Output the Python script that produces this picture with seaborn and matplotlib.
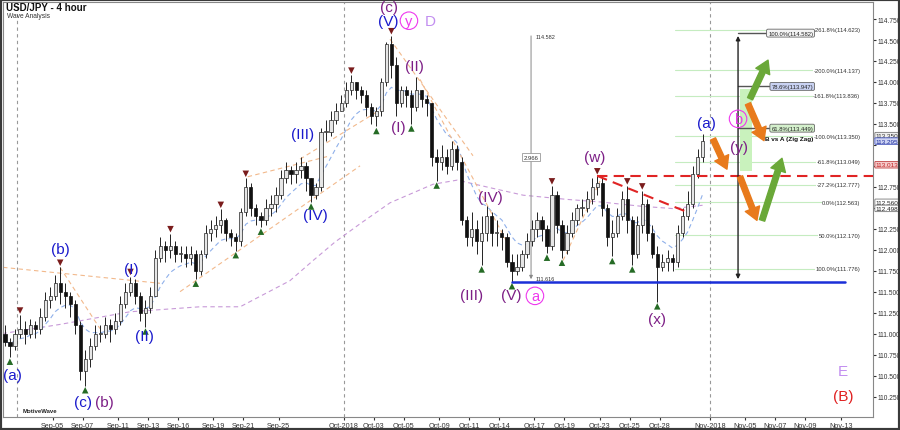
import numpy as np
import pandas as pd
import matplotlib
matplotlib.use("Agg")
import matplotlib.pyplot as plt
from matplotlib.patches import Rectangle
import seaborn as sns

# ---- values (8h candles) ----
first_open = 111.00
closes = [
    110.90, 110.85, 111.00,
    111.05, 111.00, 111.10, 111.05, 111.20, 111.40, 111.45, 111.60, 111.50, 111.45,
    111.35, 111.10, 110.55, 110.70, 110.85, 111.00,
    111.00, 111.10, 111.05, 111.15, 111.35, 111.50, 111.60, 111.45, 111.25, 111.30,
    111.45, 111.90, 112.05, 112.00, 112.05, 111.95,
    111.95, 111.90, 111.95, 111.75, 111.95, 112.20, 112.25, 112.30, 112.35, 112.20,
    112.15, 112.10, 112.45, 112.75, 112.50, 112.40,
    112.35, 112.50, 112.55, 112.65, 112.85, 112.95, 112.90, 112.95, 113.00, 112.85,
    112.65, 112.75, 113.40, 113.40, 113.55, 113.65,
    113.75, 113.90, 114.00, 113.90, 113.85, 113.70, 113.60, 113.65, 114.00, 114.45,
    114.20, 113.75, 113.90, 113.85, 113.70, 113.90,
    113.80, 113.75, 113.10, 113.05, 113.10, 113.00, 113.20, 113.05, 112.35, 112.15,
    112.25, 112.10, 112.20, 112.40, 112.20, 112.20,
    112.15, 111.85, 111.75, 111.80, 111.95, 112.10, 112.25, 112.35, 112.25, 112.05,
    112.65, 112.30, 112.00, 112.20, 112.35, 112.50,
    112.50, 112.60, 112.75, 112.80, 112.50, 112.15, 112.20, 112.40, 112.60, 112.35,
    111.95, 112.30, 112.55, 112.20, 111.95, 111.80,
    111.85, 111.90, 111.85, 112.20, 112.40, 112.55, 112.90, 113.10, 113.30,
]
highs = [
    111.10, 110.95, 111.05,
    111.22, 111.15, 111.18, 111.15, 111.30, 111.50, 111.55, 111.70, 111.79, 111.60,
    111.50, 111.40, 111.15, 110.80, 110.95, 111.10,
    111.10, 111.20, 111.18, 111.25, 111.45, 111.60, 111.68, 111.65, 111.50, 111.40,
    111.55, 112.00, 112.15, 112.10, 112.19, 112.10,
    112.05, 112.05, 112.05, 112.00, 112.00, 112.30, 112.35, 112.40, 112.48, 112.38,
    112.25, 112.20, 112.50, 112.85, 112.80, 112.55,
    112.45, 112.60, 112.65, 112.75, 112.95, 113.05, 113.00, 113.05, 113.10, 113.05,
    112.85, 112.80, 113.45, 113.55, 113.65, 113.75,
    113.85, 114.00, 114.08, 114.00, 113.95, 113.90, 113.75, 113.70, 114.05, 114.48,
    114.55, 114.30, 113.95, 113.95, 113.90, 114.06,
    113.90, 113.85, 113.75, 113.20, 113.25, 113.20, 113.30, 113.25, 113.10, 112.40,
    112.45, 112.35, 112.40, 112.52, 112.45, 112.35,
    112.25, 112.20, 111.95, 111.95, 112.00, 112.20, 112.35, 112.45, 112.40, 112.30,
    112.76, 112.70, 112.35, 112.30, 112.45, 112.55,
    112.60, 112.70, 112.85, 112.88, 112.85, 112.55, 112.35, 112.50, 112.70, 112.76,
    112.40, 112.40, 112.70, 112.60, 112.30, 112.05,
    111.95, 112.00, 111.95, 112.30, 112.50, 112.70, 113.00, 113.20, 113.38,
]
lows = [
    110.85, 110.72, 110.80,
    110.95, 110.88, 110.95, 110.95, 111.00, 111.15, 111.30, 111.40, 111.35, 111.30,
    111.20, 111.00, 110.45, 110.38, 110.60, 110.80,
    110.90, 110.95, 110.90, 111.00, 111.10, 111.30, 111.45, 111.35, 111.15, 111.08,
    111.25, 111.45, 111.85, 111.85, 111.90, 111.85,
    111.85, 111.80, 111.82, 111.65, 111.70, 111.90, 112.10, 112.15, 112.20, 112.10,
    112.05, 111.99, 112.05, 112.40, 112.40, 112.30,
    112.27, 112.30, 112.40, 112.45, 112.60, 112.80, 112.78, 112.80, 112.85, 112.70,
    112.57, 112.60, 112.70, 113.30, 113.35, 113.50,
    113.65, 113.70, 113.85, 113.80, 113.75, 113.60, 113.50, 113.47, 113.60, 113.95,
    114.05, 113.60, 113.70, 113.70, 113.50, 113.65,
    113.70, 113.60, 113.00, 112.82, 112.95, 112.90, 112.95, 112.95, 112.30, 112.05,
    112.05, 111.95, 111.82, 112.10, 112.05, 112.05,
    112.00, 111.80, 111.62, 111.70, 111.75, 111.90, 112.05, 112.15, 112.10, 111.96,
    112.00, 112.20, 111.90, 111.95, 112.15, 112.30,
    112.40, 112.45, 112.55, 112.65, 112.40, 112.05, 111.92, 112.15, 112.35, 112.20,
    111.82, 111.90, 112.20, 112.10, 111.90, 111.38,
    111.75, 111.75, 111.75, 111.80, 112.15, 112.35, 112.50, 112.85, 113.05,
]

# long moving average, read at a few points
ma_long_times = ["2018-08-31 00:00", "2018-09-05 12:00", "2018-09-11 19:00", "2018-09-18 03:00",
                 "2018-09-20 19:00", "2018-09-25 18:00", "2018-09-27 07:00", "2018-09-28 18:00",
                 "2018-10-02 02:00", "2018-10-04 02:00", "2018-10-08 14:00", "2018-10-10 05:00",
                 "2018-10-12 09:00", "2018-10-16 06:00", "2018-10-19 04:00", "2018-10-23 00:00",
                 "2018-10-25 16:00", "2018-10-29 13:00", "2018-10-31 12:00"]
ma_long_values = [111.00, 111.11, 111.26, 111.32, 111.32, 111.63, 111.87, 112.09, 112.31, 112.56,
                  112.78, 112.83, 112.74, 112.65, 112.60, 112.57, 112.52, 112.49, 112.53]

pivot_highs = ["2018-09-02 16:00", "2018-09-05 08:00", "2018-09-11 16:00", "2018-09-14 08:00",
               "2018-09-19 08:00", "2018-09-21 00:00", "2018-10-01 08:00", "2018-10-04 00:00",
               "2018-10-18 00:00", "2018-10-22 16:00", "2018-10-24 16:00", "2018-10-25 16:00"]
pivot_lows = ["2018-08-31 08:00", "2018-09-07 00:00", "2018-09-12 16:00", "2018-09-17 16:00",
              "2018-09-20 08:00", "2018-09-23 16:00", "2018-09-27 00:00", "2018-10-03 00:00",
              "2018-10-05 08:00", "2018-10-08 16:00", "2018-10-11 16:00", "2018-10-15 08:00",
              "2018-10-17 16:00", "2018-10-18 16:00", "2018-10-23 16:00", "2018-10-25 00:00",
              "2018-10-26 16:00"]

tick_dates = ["2018-09-05", "2018-09-07", "2018-09-11", "2018-09-13", "2018-09-16", "2018-09-19",
              "2018-09-21", "2018-09-25", "2018-10-01", "2018-10-03", "2018-10-05", "2018-10-09",
              "2018-10-11", "2018-10-14", "2018-10-17", "2018-10-19", "2018-10-23", "2018-10-25",
              "2018-10-28", "2018-11-01", "2018-11-05", "2018-11-07", "2018-11-09", "2018-11-13"]
tick_labels = ["Sep-05", "Sep-07", "Sep-11", "Sep-13", "Sep-16", "Sep-19", "Sep-21", "Sep-25",
               "Oct-2018", "Oct-03", "Oct-05", "Oct-09", "Oct-11", "Oct-14", "Oct-17", "Oct-19",
               "Oct-23", "Oct-25", "Oct-28", "Nov-2018", "Nov-05", "Nov-07", "Nov-09", "Nov-13"]
month_starts = ["2018-09-02", "2018-10-01", "2018-11-01"]

fib_ext_pct = ["-261.8%", "-200.0%", "-161.8%", "-100.0%", "-61.8%", "-27.2%", "0.0%", "50.0%", "100.0%"]
fib_ext_levels = [114.623, 114.137, 113.836, 113.350, 113.049, 112.777, 112.563, 112.170, 111.776]
fib_ab_pct = ["100.0%", "78.6%", "61.8%"]
fib_ab_levels = [114.582, 113.947, 113.449]
wave_low, wave_high = 111.616, 114.582
neckline = 112.88
covered_ticks = [113.25, 113.0, 112.5]  # axis labels hidden under the price tags

ORIGIN = pd.Timestamp("2018-09-03")
WEEKEND = 0.353  # weekend squeezed to the short sunday session


def xpos(ts):
    ts = pd.Timestamp(ts)
    if ts.weekday() == 6:
        monday = ts.normalize() + pd.Timedelta(days=1)
        h = max(ts.hour + ts.minute / 60, 16)
        return xpos(monday) - WEEKEND * (24 - h) / 8
    days = (ts.normalize() - ORIGIN).days
    weeks = days // 7
    return weeks * 5 + ts.weekday() + weeks * WEEKEND + (ts.hour + ts.minute / 60) / 24


times = pd.date_range("2018-08-31", "2018-10-31 08:00", freq="8h")
times = [t for t in times if t.weekday() < 5 or (t.weekday() == 6 and t.hour == 16)]
df = pd.DataFrame({"time": times, "close": closes, "high": highs, "low": lows})
df["open"] = [first_open] + closes[:-1]
df["x"] = [xpos(t + pd.Timedelta(hours=4)) for t in df["time"]]
df["ema"] = df["close"].ewm(span=9, adjust=False).mean()
by_time = df.set_index("time")

sns.set_style("white")
plt.rcParams["font.family"] = ["Liberation Sans", "DejaVu Sans"]

fig = plt.figure(figsize=(9, 4.31), dpi=100)
ax = fig.add_axes([3 / 900, 13 / 431, 870 / 900, 415 / 431])
ax.set_xlim(-1.313, 56.687)
ax.set_ylim(110.006, 114.953)

# month separators
for m in month_starts:
    ax.axvline(xpos(m), color="#999999", lw=0.8, ls=(0, (3, 3)), zorder=1)

# moving averages
sns.lineplot(x=[xpos(t) for t in ma_long_times], y=ma_long_values, ax=ax, color="#c89ad8",
             lw=0.8, linestyle=(0, (4, 3)), sort=False, zorder=2)
sns.lineplot(x=df["x"], y=df["ema"], ax=ax, color="#8fb0ea", lw=0.8, linestyle=(0, (4, 3)),
             sort=False, zorder=2)

# wave connector lines (day units, price)
connectors = [((-1.31, 111.79), (9.15, 111.60)), ((2.49, 111.79), (5.15, 111.06)),
              ((10.49, 111.50), (22.49, 113.00)), ((15.0, 112.87), (20.29, 113.11)),
              ((18.49, 113.08), (23.95, 113.68)), ((24.49, 114.51), (30.02, 113.12)),
              ((26.49, 114.03), (32.29, 112.09)), ((36.02, 111.87), (38.49, 112.82))]
for (x1, y1), (x2, y2) in connectors:
    ax.plot([x1, x2], [y1, y2], color="#f2b98c", lw=0.8, ls=(0, (4, 3)), zorder=2)

# candles
up = df["close"] >= df["open"]
ax.vlines(df["x"], df["low"], df["high"], color="#222222", lw=0.7, zorder=3)
body_lo = np.minimum(df["open"], df["close"])
body_h = np.maximum(np.abs(df["close"] - df["open"]), 0.012)
ax.bar(df["x"][up], body_h[up], bottom=body_lo[up], width=0.22, color="#e6e6e6",
       edgecolor="#222222", lw=0.5, zorder=4)
ax.bar(df["x"][~up], body_h[~up], bottom=body_lo[~up], width=0.22, color="#111111",
       edgecolor="#111111", lw=0.5, zorder=4)

# swing markers
ph = by_time.loc[pd.to_datetime(pivot_highs)]
pl = by_time.loc[pd.to_datetime(pivot_lows)]
sns.scatterplot(x=ph["x"], y=ph["high"] + 0.055, marker="v", color="#7a1c1c", s=22,
                edgecolor="none", ax=ax, zorder=5)
sns.scatterplot(x=pl["x"], y=pl["low"] - 0.055, marker="^", color="#256b25", s=22,
                edgecolor="none", ax=ax, zorder=5)

# fibonacci extension levels
for pct, lvl in zip(fib_ext_pct, fib_ext_levels):
    ax.plot([43.49, 55.84], [lvl, lvl], color="#c5ecc0", lw=0.8, zorder=1)
    ax.text(55.84, lvl, f"{pct}({lvl:.3f})", fontsize=4.2, color="#333333", ha="right",
            va="center", zorder=6, bbox=dict(fc="white", ec="none", pad=0.3))

# B vs A retracement
ab_fc = ["#f4f4f4", "#c9d2f2", "#d4f0cc"]
for pct, lvl, fc in zip(fib_ab_pct, fib_ab_levels, ab_fc):
    ax.plot([47.69, 50.0], [lvl, lvl], color="#555555", lw=1.0, zorder=5)
    ax.text(52.69, lvl, f"{pct}({lvl:.3f})", fontsize=4.2, color="#222222", ha="right", va="center",
            zorder=6, bbox=dict(boxstyle="round,pad=0.25", fc=fc, ec="#666666", lw=0.6))
ax.text(52.69, 113.32, "B vs A (Zig Zag)", fontsize=4.6, fontweight="bold", ha="right",
        va="center", color="#111111", zorder=6)

# support line and neckline
vx = xpos("2018-10-15 12:00")
wx = xpos("2018-10-22 20:00")
ax.plot([vx, 54.82], [wave_low, wave_low], color="#1a2fd8", lw=1.8, zorder=5)
ax.plot([wx, 56.687], [neckline, neckline], color="#e02424", lw=1.5, ls=(0, (5, 3)), zorder=5)
ax.plot([wx, 44.29], [neckline, 112.45], color="#e02424", lw=1.5, ls=(0, (5, 3)), zorder=5)

# measuring lines
ax.annotate("", xy=(33.89, wave_low), xytext=(33.89, wave_high),
            arrowprops=dict(arrowstyle="-|>", color="#888888", lw=0.7, mutation_scale=5), zorder=4)
ax.text(33.89, 113.105, "2.966", fontsize=4.3, ha="center", va="center", color="#333333", zorder=6,
        bbox=dict(boxstyle="square,pad=0.3", fc="white", ec="#999999", lw=0.6))
ax.text(34.2, wave_high - 0.04, "114.582", fontsize=4, color="#333333", va="center")
ax.text(34.2, wave_low + 0.04, "111.616", fontsize=4, color="#333333", va="center")
ax.annotate("", xy=(47.69, wave_low), xytext=(47.69, wave_high),
            arrowprops=dict(arrowstyle="<|-|>", color="#222222", lw=1.0, mutation_scale=6), zorder=5)

# green target zone
ax.add_patch(Rectangle((47.85, 112.94), 0.75, 0.98, fc="#c9f2bd", ec="none", zorder=1))

# projected path arrows
arrows = [((46.02, 113.32), (46.95, 112.96), "#e87a1c"), ((48.35, 113.74), (49.42, 113.30), "#e87a1c"),
          ((47.82, 112.87), (48.95, 112.35), "#e87a1c"), ((48.49, 113.80), (49.69, 114.26), "#6aa838"),
          ((49.29, 112.35), (50.62, 113.09), "#6aa838")]
for (x1, y1), (x2, y2), c in arrows:
    ax.annotate("", xy=(x2, y2), xytext=(x1, y1), zorder=6,
                arrowprops=dict(arrowstyle="simple,head_width=1.1,head_length=0.9,tail_width=0.4",
                                color=c, mutation_scale=10, shrinkA=0, shrinkB=0))

# wave labels
blue, purple, pink, lav = "#1a1acc", "#7d1f86", "#ee38ee", "#c28ef0"
labels = [("(a)", -0.71, 110.51, blue), ("(b)", 2.49, 112.01, blue), ("(c)", 4.02, 110.18, blue),
          ("(b)", 5.42, 110.18, purple), ("(I)", 7.22, 111.77, blue), ("(II)", 8.09, 110.97, blue),
          ("(III)", 18.69, 113.38, blue), ("(IV)", 19.49, 112.41, blue), ("(V)", 24.35, 114.73, blue),
          ("(c)", 24.42, 114.89, purple), ("D", 27.15, 114.73, lav), ("(I)", 25.02, 113.46, purple),
          ("(II)", 26.09, 114.19, purple), ("(III)", 29.95, 111.46, purple), ("(IV)", 31.15, 112.63, purple),
          ("(V)", 32.55, 111.46, purple), ("(w)", 38.15, 113.11, purple), ("(x)", 42.29, 111.17, purple),
          ("(a)", 45.55, 113.51, blue), ("(y)", 47.75, 113.22, purple), ("E", 54.69, 110.55, lav),
          ("(B)", 54.69, 110.26, "#e02020")]
for txt, x, y, c in labels:
    ax.text(x, y, txt, fontsize=11, color=c, ha="center", va="center", zorder=7)
for txt, x, y in [("y", 25.75, 114.73), ("a", 34.15, 111.45), ("b", 47.69, 113.56)]:
    ax.text(x, y, txt, fontsize=10.5, color=pink, ha="center", va="center", zorder=7,
            bbox=dict(boxstyle="circle,pad=0.12", fc="none", ec=pink, lw=0.8))

# axes
yt = np.arange(110.25, 114.76, 0.25)
ax.yaxis.tick_right()
ax.set_yticks(yt)
ax.set_yticklabels(["" if any(abs(v - c) < 1e-6 for c in covered_ticks) else f"{v:.3f}" for v in yt])
ax.set_xticks([xpos(d) for d in tick_dates])
ax.set_xticklabels(tick_labels)
ax.tick_params(axis="y", labelsize=4.8, length=2.5, pad=1, colors="#333333", right=True)
ax.tick_params(axis="x", labelsize=5.2, length=2.5, pad=1, colors="#333333", bottom=True)
ax.set_xlabel("")
ax.set_ylabel("")
for s in ax.spines.values():
    s.set_color("#888888")
    s.set_linewidth(0.8)

# price tags on the right axis
tags = [(113.36, "113.350", "#333333", "#eeeeee", "#777777"),
        (113.295, "113.295", "#1a2a9a", "#cdd3f3", "#4455bb"),
        (113.013, "113.013", "#c02020", "#f5caca", "#c04444"),
        (112.565, "112.560", "#222222", "white", "#777777"),
        (112.493, "112.498", "#222222", "white", "#777777")]
tr = ax.get_yaxis_transform()
for y, t, tc, fc, ec in tags:
    ax.text(1.003, y, t, transform=tr, fontsize=4.6, color=tc, va="center", ha="left", clip_on=False,
            zorder=8, bbox=dict(boxstyle="round,pad=0.12", fc=fc, ec=ec, lw=0.6))

fig.text(6 / 900, 1 - 8 / 431, "USD/JPY - 4 hour", fontsize=7, fontweight="bold", va="center", color="#111111")
fig.text(7 / 900, 1 - 17 / 431, "Wave Analysis", fontsize=4.8, va="center", color="#333333")
fig.text(23 / 900, 1 - 412 / 431, "MotiveWave", fontsize=4.3, fontweight="bold", va="center", color="#222222")
fig.add_artist(Rectangle((0, 0), 1, 1, transform=fig.transFigure, fill=False, ec="#3a3a3a", lw=3))

fig.savefig("out.png", dpi=100)
